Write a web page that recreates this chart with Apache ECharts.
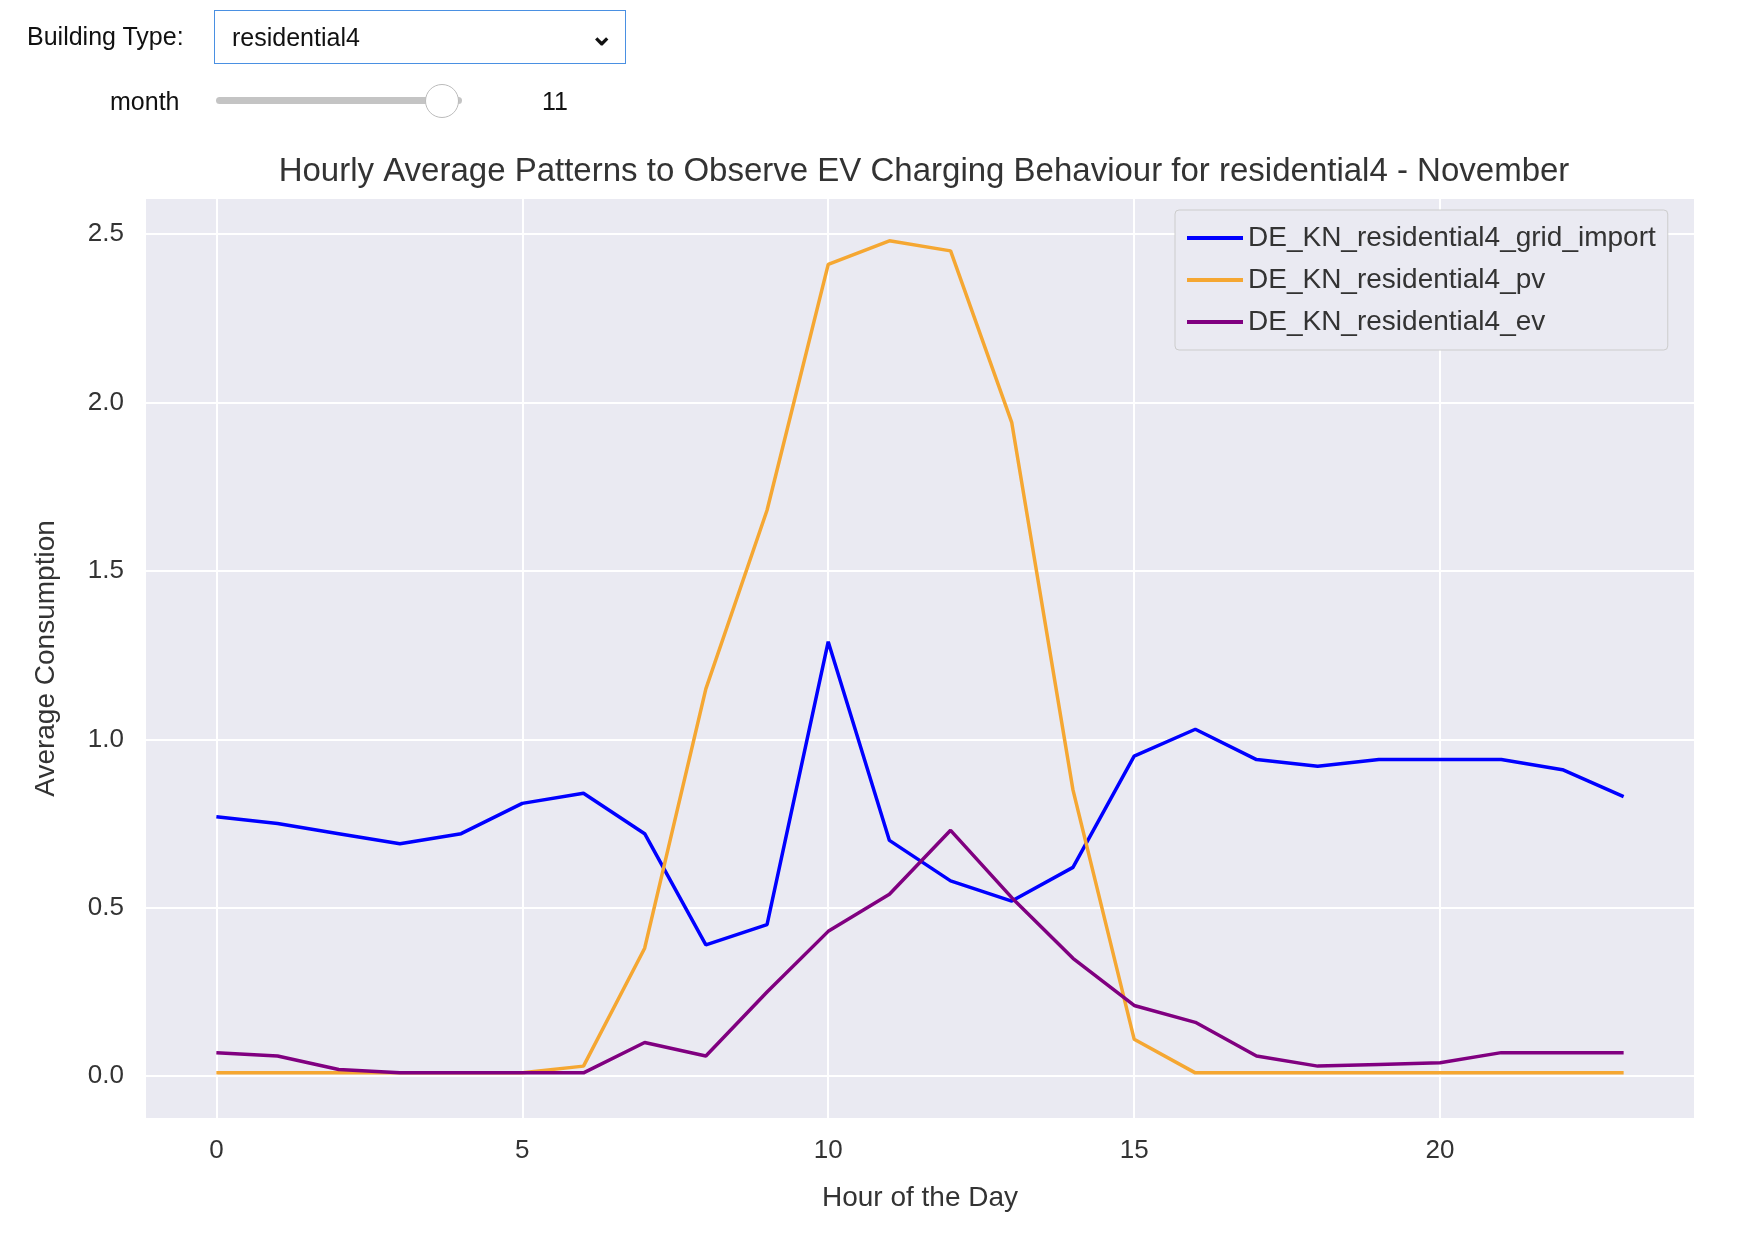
<!DOCTYPE html>
<html>
<head>
<meta charset="utf-8">
<script src="https://cdn.jsdelivr.net/npm/echarts@6/dist/echarts.min.js"></script>
<style>
  body { margin: 0; background: #fff; font-family: "Liberation Sans", Arial, sans-serif; }
  .w { position: absolute; font-size: 25px; color: #111; }
  #chart { position: absolute; left: 0; top: 0; width: 1748px; height: 1234px; }
</style>
</head>
<body>
<div id="chart"></div>
<div class="w" style="left:27px;top:22px;">Building Type:</div>
<div class="w" style="left:214px;top:10px;width:412px;height:54px;border:1px solid #4a90e2;box-sizing:border-box;padding:12px 17px;">residential4
  <span style="position:absolute;right:12px;top:8px;font-size:28px;font-weight:bold;">&#8964;</span></div>
<div class="w" style="left:110px;top:87px;">month</div>
<div style="position:absolute;left:216px;top:97px;width:246px;height:7px;background:#c4c4c4;border-radius:4px;"></div>
<div style="position:absolute;left:425px;top:84px;width:32px;height:32px;background:#fff;border:1px solid #bbb;border-radius:50%;"></div>
<div class="w" style="left:542px;top:87px;">11</div>
<script>
  const hours = Array.from({ length: 24 }, (_, i) => i)
  const gridImport = [0.77, 0.75, 0.72, 0.69, 0.72, 0.81, 0.84, 0.72, 0.39, 0.45, 1.29, 0.70, 0.58, 0.52, 0.62, 0.95, 1.03, 0.94, 0.92, 0.94, 0.94, 0.94, 0.91, 0.83]
  const pv = [0.01, 0.01, 0.01, 0.01, 0.01, 0.01, 0.03, 0.38, 1.15, 1.68, 2.41, 2.48, 2.45, 1.94, 0.85, 0.11, 0.01, 0.01, 0.01, 0.01, 0.01, 0.01, 0.01, 0.01]
  const ev = [0.07, 0.06, 0.02, 0.01, 0.01, 0.01, 0.01, 0.10, 0.06, 0.25, 0.43, 0.54, 0.73, 0.53, 0.35, 0.21, 0.16, 0.06, 0.03, 0.035, 0.04, 0.07, 0.07, 0.07]
  const xTicks = [0, 5, 10, 15, 20]
  const yTicks = [0, 0.5, 1.0, 1.5, 2.0, 2.5]

  const chart = echarts.init(document.getElementById('chart'))
  const mk = (name, data, color) => ({
    name, type: 'line', data: hours.map((h, i) => [h, data[i]]),
    showSymbol: false, lineStyle: { color, width: 3.5 }, itemStyle: { color }
  })
  const txt = { color: '#333', fontSize: 26, fontFamily: 'Liberation Sans' }
  chart.setOption({
    animation: false,
    title: { text: 'Hourly Average Patterns to Observe EV Charging Behaviour for residential4 - November',
      left: 919, textAlign: 'center', top: 150, textStyle: { fontSize: 33, fontWeight: 'normal', color: '#333', fontFamily: 'Liberation Sans' } },
    grid: { left: 146, right: 54, top: 199, bottom: 116, backgroundColor: '#eaeaf2', show: true, borderWidth: 0 },
    legend: { orient: 'vertical', left: 1175, top: 210, padding: [14, 12, 14, 12], itemGap: 14,
      itemWidth: 56, itemHeight: 4, backgroundColor: '#eaeaf2', borderColor: '#ccc', borderWidth: 1, borderRadius: 4,
      icon: 'rect', textStyle: { ...txt, fontSize: 28 } },
    xAxis: { type: 'value', min: -1.15, max: 24.15,
      name: 'Hour of the Day', nameLocation: 'middle', nameGap: 66, nameTextStyle: { ...txt, fontSize: 28 },
      axisLine: { show: false }, axisTick: { show: false, customValues: xTicks },
      axisLabel: { customValues: xTicks, ...txt, margin: 20 },
      splitLine: { show: true, lineStyle: { color: '#fff', width: 2 } } },
    yAxis: { type: 'value', min: -0.124, max: 2.604,
      name: 'Average Consumption', nameLocation: 'middle', nameGap: 86, nameTextStyle: { ...txt, fontSize: 28 },
      axisLine: { show: false }, axisTick: { show: false, customValues: yTicks },
      axisLabel: { customValues: yTicks, ...txt, margin: 22, formatter: v => v.toFixed(1) },
      splitLine: { show: true, lineStyle: { color: '#fff', width: 2 } } },
    series: [
      mk('DE_KN_residential4_grid_import', gridImport, '#0000ff'),
      mk('DE_KN_residential4_pv', pv, '#f5a732'),
      mk('DE_KN_residential4_ev', ev, '#800080')
    ]
  })
</script>
</body>
</html>
